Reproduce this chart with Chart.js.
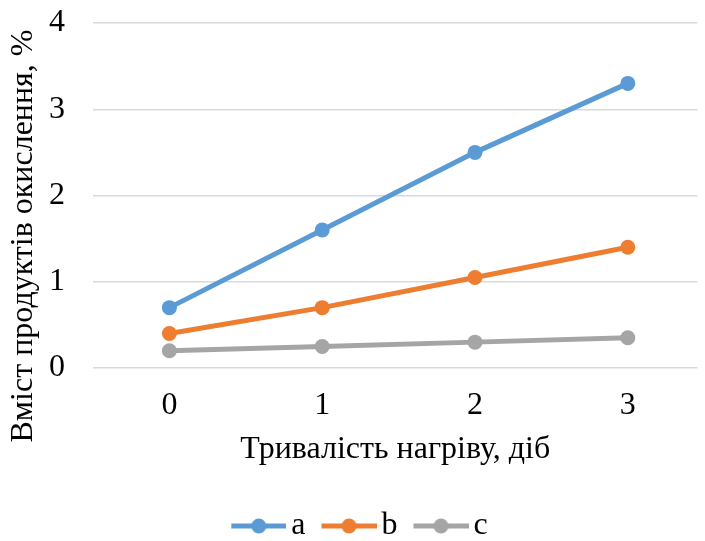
<!DOCTYPE html>
<html lang="uk">
  <head>
    <meta charset="UTF-8" />
    <title>Вміст продуктів окислення</title>
    <script src="https://cdn.jsdelivr.net/npm/chart.js"></script>
    <style>
      html, body { margin: 0; padding: 0; background: #fff; overflow: hidden; }
      canvas { display: block; }
    </style>
  </head>
  <body>
    <canvas id="chart" width="705" height="552"></canvas>
    <script>
      const days = ["0", "1", "2", "3"];
      const seriesA = [0.7, 1.6, 2.5, 3.3];
      const seriesB = [0.4, 0.7, 1.05, 1.4];
      const seriesC = [0.2, 0.25, 0.3, 0.35];
      const yTicks = [0, 1, 2, 3, 4];
      const xTitle = "Тривалість нагріву, діб";
      const yTitle = "Вміст продуктів окислення, %";

      const colors = ["#5B9BD5", "#ED7D31", "#A5A5A5"];
      const font = "'Liberation Serif', 'Times New Roman', serif";
      const fs = 32;

      // legend marker: short line with a dot, pushed to the right of the canvas
      // so the label text sits close to it
      function marker(color) {
        const c = document.createElement("canvas");
        c.width = 80;
        c.height = 16;
        const g = c.getContext("2d");
        g.strokeStyle = color;
        g.lineWidth = 5;
        g.beginPath();
        g.moveTo(25, 8);
        g.lineTo(80, 8);
        g.stroke();
        g.fillStyle = color;
        g.beginPath();
        g.arc(52.5, 8, 7.5, 0, Math.PI * 2);
        g.fill();
        return c;
      }

      const mk = (label, data, color) => ({
        label: label,
        data: data.map((v, i) => ({ x: Number(days[i]), y: v })),
        borderColor: color,
        backgroundColor: color,
        borderWidth: 5,
        pointStyle: "circle",
        pointRadius: 7.5,
        pointHoverRadius: 7.5,
        pointBorderWidth: 0,
        tension: 0,
      });

      // rotated y title, centred like the original (lower than the plot centre)
      const yTitlePlugin = {
        id: "yTitle",
        afterDraw(chart) {
          const ctx = chart.ctx;
          ctx.save();
          ctx.translate(24, 236);
          ctx.rotate(-Math.PI / 2);
          ctx.font = fs + "px " + font;
          ctx.fillStyle = "#000";
          ctx.textAlign = "center";
          ctx.textBaseline = "middle";
          ctx.fillText(yTitle, 0, 0);
          ctx.restore();
        },
      };

      new Chart(document.getElementById("chart"), {
        type: "line",
        data: {
          datasets: [
            mk("a", seriesA, colors[0]),
            mk("b", seriesB, colors[1]),
            mk("c", seriesC, colors[2]),
          ],
        },
        plugins: [yTitlePlugin],
        options: {
          responsive: false,
          animation: false,
          layout: { padding: { top: 23, left: 0, right: 0, bottom: 0 } },
          plugins: {
            tooltip: { enabled: false },
            legend: {
              position: "bottom",
              labels: {
                usePointStyle: true,
                pointStyleWidth: 58,
                generateLabels: (chart) =>
                  chart.data.datasets.map((ds, i) => ({
                    text: ds.label,
                    pointStyle: marker(colors[i]),
                    fillStyle: colors[i],
                    strokeStyle: colors[i],
                    lineWidth: 0,
                    datasetIndex: i,
                    fontColor: "#000",
                  })),
                color: "#000",
                font: { family: font, size: fs, lineHeight: 1 },
                boxHeight: 16,
                padding: 2,
              },
            },
          },
          scales: {
            x: {
              type: "linear",
              // half a category either side; the last half is cut by the
              // right edge in the original
              min: -0.5,
              max: 3.456,
              afterBuildTicks: (s) => { s.ticks = days.map((d) => ({ value: Number(d) })); },
              grid: { display: false, drawTicks: false },
              border: { display: false },
              ticks: {
                color: "#000",
                font: { family: font, size: fs },
                padding: 18,
                callback: (v) => String(v),
              },
              title: {
                display: true,
                text: xTitle,
                color: "#000",
                font: { family: font, size: fs },
                padding: { top: 0, bottom: 39 },
              },
              afterFit: (s) => {
                s.height = 140;
                s.paddingLeft = 0;
                s.paddingRight = 0;
              },
            },
            y: {
              min: 0,
              max: 4,
              afterBuildTicks: (s) => { s.ticks = yTicks.map((v) => ({ value: v })); },
              grid: { color: "#D9D9D9", lineWidth: 1.5, drawTicks: false },
              border: { display: false },
              ticks: { color: "#000", font: { family: font, size: fs }, padding: 28 },
              afterFit: (s) => {
                s.width = 93;
                s.paddingTop = 0;
                s.paddingBottom = 0;
              },
            },
          },
        },
      });
    </script>
  </body>
</html>
